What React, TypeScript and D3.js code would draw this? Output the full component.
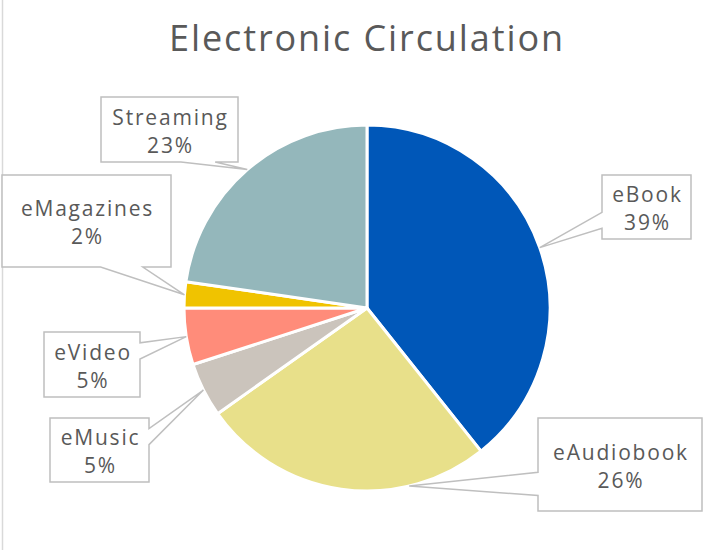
import {useEffect, useRef} from 'react';
import * as d3 from 'd3';

// slice data, read clockwise from 12 o'clock
const categories = ['eBook', 'eAudiobook', 'eMusic', 'eVideo', 'eMagazines', 'Streaming'];
const shares = [39.3, 25.9, 4.8, 5.0, 2.3, 22.7];
const sliceColors = ['#0057b8', '#e8e08a', '#cbc4bc', '#ff8c7a', '#f0c300', '#94b7bb'];

// callout boxes (layout only) and where along each slice the wedge points
const calloutBoxes = [
  {x: 602, y: 175, w: 89, h: 64, t: 0.5},
  {x: 538, y: 418, w: 164, h: 93, t: 0.27},
  {x: 50, y: 418, w: 99, h: 64, t: 0.5},
  {x: 44, y: 332, w: 96, h: 65, t: 0.5},
  {x: 2, y: 175, w: 169, h: 92, t: 0.5},
  {x: 101, y: 97, w: 137, h: 65, t: 0.5},
];

const W = 723;
const H = 550;
const FONT = "'Open Sans', 'Noto Sans', sans-serif";

export default function App() {
  const svgRef = useRef<SVGSVGElement>(null);

  useEffect(() => {
    if (!svgRef.current) return;
    const svg = d3.select(svgRef.current);
    svg.selectAll('*').remove();

    svg.append('rect').attr('width', W).attr('height', H).attr('fill', '#ffffff');
    svg
      .append('line')
      .attr('x1', 2.5)
      .attr('x2', 2.5)
      .attr('y1', 0)
      .attr('y2', H)
      .attr('stroke', '#d9d9d9')
      .attr('stroke-width', 1.5);

    svg
      .append('text')
      .attr('x', 367)
      .attr('y', 51)
      .attr('text-anchor', 'middle')
      .attr('fill', '#595959')
      .attr('font-family', FONT)
      .attr('font-size', '36px')
      .attr('letter-spacing', '1.9px')
      .text('Electronic Circulation');

    const cx = 367;
    const cy = 308;
    const r = 183;

    const pie = d3
      .pie<number>()
      .sort(null)
      .value((d) => d);
    const arcs = pie(shares);
    const arc = d3.arc<d3.PieArcDatum<number>>().innerRadius(0).outerRadius(r);

    const g = svg.append('g').attr('transform', `translate(${cx},${cy})`);
    g.selectAll('path')
      .data(arcs)
      .join('path')
      .attr('d', arc)
      .attr('fill', (d, i) => sliceColors[i])
      .attr('stroke', '#ffffff')
      .attr('stroke-width', 3)
      .attr('stroke-linejoin', 'round');

    const total = d3.sum(shares);

    arcs.forEach((a, i) => {
      const b = calloutBoxes[i];
      const ang = a.startAngle + b.t * (a.endAngle - a.startAngle);
      const tx = cx + r * Math.sin(ang);
      const ty = cy - r * Math.cos(ang);
      const bcx = b.x + b.w / 2;
      const bcy = b.y + b.h / 2;
      const dx = (tx - bcx) / b.w;
      const dy = (ty - bcy) / b.h;

      // office style wedge callout outline
      const x0 = b.x, x1 = b.x + b.w, y0 = b.y, y1 = b.y + b.h;
      let pts: [number, number][];
      if (Math.abs(dy) > Math.abs(dx)) {
        const f = dx > 0 ? [7 / 12, 10 / 12] : [2 / 12, 5 / 12];
        const xa = x0 + b.w * f[0];
        const xb = x0 + b.w * f[1];
        if (dy > 0) {
          pts = [[x0, y0], [x1, y0], [x1, y1], [xb, y1], [tx, ty], [xa, y1], [x0, y1]];
        } else {
          pts = [[x0, y0], [xa, y0], [tx, ty], [xb, y0], [x1, y0], [x1, y1], [x0, y1]];
        }
      } else {
        const f = dy > 0 ? [7 / 12, 10 / 12] : [2 / 12, 5 / 12];
        const ya = y0 + b.h * f[0];
        const yb = y0 + b.h * f[1];
        if (dx > 0) {
          pts = [[x0, y0], [x1, y0], [x1, ya], [tx, ty], [x1, yb], [x1, y1], [x0, y1]];
        } else {
          pts = [[x0, y0], [x1, y0], [x1, y1], [x0, y1], [x0, yb], [tx, ty], [x0, ya]];
        }
      }

      svg
        .append('path')
        .attr('d', 'M' + pts.map((p) => p.join(',')).join('L') + 'Z')
        .attr('fill', '#ffffff')
        .attr('stroke', '#bfbfbf')
        .attr('stroke-width', 1.5);

      const label = svg
        .append('text')
        .attr('text-anchor', 'middle')
        .attr('fill', '#595959')
        .attr('font-family', FONT)
        .attr('font-size', '21px')
        .attr('letter-spacing', '1.8px');
      label.append('tspan').attr('x', bcx + 1).attr('y', bcy - 5).text(categories[i]);
      label
        .append('tspan')
        .attr('x', bcx + 1)
        .attr('y', bcy + 23)
        .text(`${Math.round((a.value / total) * 100)}%`);
    });
  }, []);

  return (
    <svg
      ref={svgRef}
      width={W}
      height={H}
      style={{position: 'absolute', left: 0, top: 0, display: 'block'}}
    />
  );
}
